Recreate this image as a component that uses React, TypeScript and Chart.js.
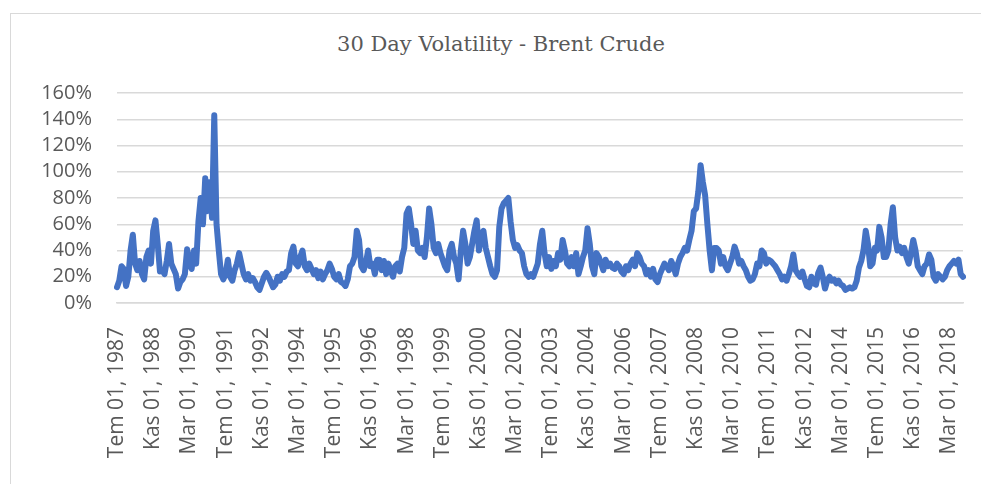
import React, { useEffect, useRef } from "react";
import { Chart, registerables } from "chart.js";

Chart.register(...registerables);

const TITLE = "30 Day Volatility - Brent Crude";

// Turkish month abbreviations used in the axis labels
const MONTHS_TR = ["Oca", "Şub", "Mar", "Nis", "May", "Haz", "Tem", "Ağu", "Eyl", "Eki", "Kas", "Ara"];
const START_YEAR = 1987;
const START_MONTH = 6; // Tem (July)
const LABEL_EVERY = 16; // a tick label every 16 months

// 30-day volatility (%), monthly, Jul 1987 onward
const vol1987_1991 = [
  12, 17, 28, 26, 13, 20, 40, 52, 30, 25, 32, 22, 18, 35, 40, 30, 55, 63, 45, 24,
  25, 22, 32, 45, 30, 26, 22, 11, 16, 18, 22, 41, 30,
  26, 40, 30, 62, 80, 60, 95, 70, 92, 65, 143, 60, 40, 22, 18, 22, 33,
  20, 17, 25, 30, 38, 30, 22, 18, 22,
];
const vol1992_1996 = [
  17, 19, 16, 12, 10, 15, 20, 23, 20, 16, 12, 14, 20, 17, 22, 20, 24, 25, 38, 43,
  30, 28, 35, 40, 28, 25, 30, 26, 22, 25, 19, 24, 18, 22, 25, 30, 26, 20, 18, 22,
  16, 15, 13, 18, 28, 30, 35, 55, 48, 28, 25, 30, 40,
];
const vol1997_2003 = [
  28, 30, 22, 33, 33, 25, 32, 22, 30, 25, 20, 28, 30, 24, 35, 42, 68, 72, 60, 45,
  55, 40, 38, 42, 35, 50, 72, 60, 42, 38, 45, 38, 33, 28, 25, 40, 45, 35, 30, 18,
  40, 55, 45, 30, 35, 45, 55, 63, 40, 52, 55, 42, 35, 28, 22, 20, 25, 58, 72, 76,
  78, 80, 62, 48, 42, 44, 40, 38, 28, 22, 20, 22, 20, 25,
];
const vol2003_2009 = [
  30, 45, 55, 38, 28, 35, 26, 32, 28, 38, 33, 48, 40, 30, 28, 35, 28, 38, 22, 28,
  35, 40, 57, 45, 28, 22, 38, 35, 30, 25, 33, 28, 30, 27, 26, 30, 28, 24, 22, 28,
  25, 30, 33, 28, 38, 35, 30, 28, 22, 25, 20, 26, 18, 16, 22, 26, 30, 28, 25, 32,
  28, 22, 30, 35, 38, 42, 40, 48, 55, 70, 72, 85, 105, 92, 82, 60, 40, 25, 42,
];
const vol2009_2015 = [
  42, 40, 30, 35, 28, 25, 30, 35, 43, 38, 30, 32, 28, 25, 20, 17, 18, 22, 30, 28,
  40, 38, 30, 33, 32, 30, 28, 25, 22, 18, 20, 17, 22, 28, 37, 25, 22, 20, 24, 18,
  13, 12, 20, 15, 14, 23, 27, 20, 11, 17, 20, 17, 18, 15, 17, 14, 13, 10, 11, 12,
  11, 12, 17, 27, 32, 40, 55, 45, 28,
];
const vol2015_2018 = [
  30, 42, 40, 58, 50, 35, 35, 40, 60, 73, 50, 40, 43, 38, 42, 35, 30, 38, 48, 40,
  28, 25, 22, 28, 30, 37, 33, 20, 17, 22, 20, 18, 20, 25, 28, 30, 32, 30, 33, 22, 20,
];

const volatility = [
  ...vol1987_1991,
  ...vol1992_1996,
  ...vol1997_2003,
  ...vol2003_2009,
  ...vol2009_2015,
  ...vol2015_2018,
];

const categories = volatility.map((_, i) => {
  const m = START_MONTH + i;
  return `${MONTHS_TR[m % 12]} 01, ${START_YEAR + Math.floor(m / 12)}`;
});

const Y_TICKS_MAX = 160;
const Y_TICKS_STEP = 20;

export default function App() {
  const canvasRef = useRef<HTMLCanvasElement | null>(null);

  useEffect(() => {
    if (!canvasRef.current) return;
    Chart.defaults.font.family = "'Open Sans', sans-serif";
    const chart = new Chart(canvasRef.current, {
      type: "line",
      data: {
        labels: categories,
        datasets: [
          {
            data: volatility,
            borderColor: "#4472C4",
            backgroundColor: "#4472C4",
            borderWidth: 6,
            pointRadius: 0,
            tension: 0,
            borderJoinStyle: "round",
            borderCapStyle: "round",
          },
        ],
      },
      options: {
        animation: false,
        responsive: false,
        layout: { padding: { left: 0, right: 18, top: 93, bottom: 0 } },
        plugins: {
          legend: { display: false },
          tooltip: { enabled: false },
          title: { display: false },
        },
        scales: {
          x: {
            type: "category",
            grid: { display: false, drawTicks: false },
            border: { display: true, color: "#d9d9d9", width: 1.5 },
            ticks: {
              autoSkip: false,
              minRotation: 90,
              maxRotation: 90,
              padding: 24,
              color: "#595959",
              font: { size: 21 },
              callback: function (value: any, index: number) {
                return index % LABEL_EVERY === 0 ? categories[index] : null;
              },
            },
            afterFit: (scale: any) => {
              scale.height = 181;
              scale.paddingLeft = 0;
              scale.paddingRight = 0;
            },
          },
          y: {
            min: 0,
            max: Y_TICKS_MAX,
            grid: { color: "#d9d9d9", lineWidth: 1.5, drawTicks: false },
            border: { display: false },
            ticks: {
              autoSkip: false,
              stepSize: Y_TICKS_STEP,
              padding: 25,
              color: "#595959",
              font: { size: 20 },
              callback: (v: any) => `${v}%`,
            },
            afterFit: (scale: any) => {
              scale.width = 117;
            },
          },
        },
      },
    });
    return () => chart.destroy();
  }, []);

  return (
    <div
      style={{
        position: "fixed",
        left: 0,
        top: 0,
        width: 981,
        height: 484,
        overflow: "hidden",
        background: "#ffffff",
      }}
    >
      <div
        style={{
          position: "absolute",
          left: 10,
          top: 13,
          width: 1000,
          height: 500,
          border: "1px solid #d9d9d9",
        }}
      />
      <div
        style={{
          position: "absolute",
          left: 0,
          top: 32,
          width: 1002,
          textAlign: "center",
          fontFamily: "'DejaVu Serif', serif",
          fontSize: 21,
          lineHeight: "25px",
          color: "#595959",
          whiteSpace: "nowrap",
        }}
      >
        {TITLE}
      </div>
      <canvas ref={canvasRef} width={981} height={484} style={{ position: "absolute", left: 0, top: 0 }} />
    </div>
  );
}
